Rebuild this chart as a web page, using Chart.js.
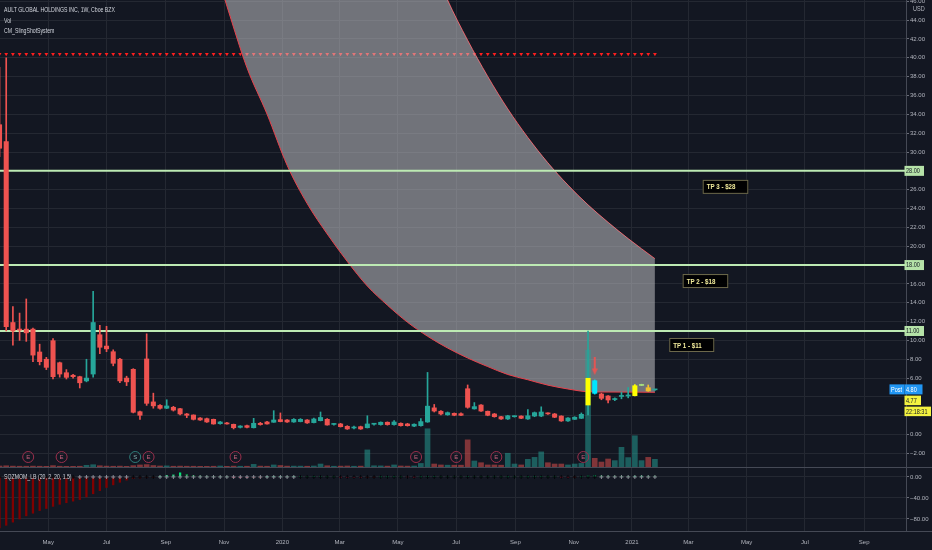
<!DOCTYPE html>
<html>
<head>
<meta charset="utf-8">
<script src="https://cdn.jsdelivr.net/npm/chart.js@4.4.0/dist/chart.umd.min.js"></script>
<style>
html,body{margin:0;padding:0;background:#131722;overflow:hidden}
#wrap{width:932px;height:550px;position:relative}
</style>
</head>
<body>
<div id="wrap"><canvas id="c" width="932" height="550"></canvas></div>
<script>
// ---------------- DATA ----------------
const firstWeek = '2019-03-11';   // first weekly bar (Mondays, one bar per week)
const open  = [32.9,31.1,11.9,11.2,11.2,11.2,8.77,8.0,9.97,7.63,
  6.57,6.3,6.15,5.7,6.43,10.6,9.4,8.8,8.0,6.0,
  6.93,2.43,8.03,3.47,3.1,2.8,2.9,2.75,2.19,2.08,
  1.76,1.69,1.62,1.16,1.24,1.09,0.77,0.95,0.73,1.2,
  1.34,1.31,1.59,1.55,1.34,1.38,1.55,1.27,1.48,1.62,
  1.08,1.13,0.88,0.7,0.84,0.73,1.1,1.06,1.31,1.06,
  1.2,1.13,0.9,0.95,1.34,2.84,2.48,2.1,2.26,2.22,
  4.87,2.73,3.14,2.48,2.19,1.9,1.66,1.9,1.97,1.66,
  1.97,1.97,2.26,2.19,1.97,1.45,1.62,1.73,3.14,5.72,
  4.31,4.1,3.72,4.05,4.1,4.13,5.22,4.98,4.75];
const high  = [39,40,13.6,12.9,14.4,11.3,9.6,8.2,10.2,7.7,
  6.9,6.4,6.2,8.0,15.2,11.6,11.5,9.0,8.1,6.2,
  7.0,2.5,10.7,4.4,3.2,3.7,3.0,2.8,2.25,2.1,
  1.8,1.75,1.65,1.4,1.3,1.12,0.95,1.0,1.73,1.3,
  1.4,2.54,2.3,1.6,1.7,1.7,1.6,1.75,2.4,1.7,
  1.2,1.2,0.95,0.9,0.9,2.0,1.2,1.35,1.35,1.5,
  1.25,1.2,1.15,1.7,6.6,3.2,2.55,2.4,2.3,2.3,
  5.27,3.4,3.2,2.5,2.25,1.95,2.05,2.0,2.0,2.65,
  2.4,2.95,2.3,2.25,2.0,1.8,1.9,2.3,11.0,5.8,
  4.4,4.15,3.9,4.5,5.0,5.3,5.35,5.27,4.8];
const low   = [29.5,11.0,9.5,10.0,9.9,7.74,7.4,6.9,5.9,6.1,
  5.9,6.0,4.95,5.6,6.1,8.6,8.8,7.3,5.5,5.2,
  2.3,1.6,3.1,2.8,2.7,2.75,2.5,2.1,1.8,1.55,
  1.5,1.3,1.1,1.1,1.1,0.6,0.7,0.72,0.7,1.0,
  1.1,1.3,1.35,1.3,1.3,1.35,1.2,1.25,1.45,1.0,
  1.0,0.8,0.55,0.6,0.55,0.7,1.0,1.0,1.0,1.0,
  0.9,0.9,0.85,0.9,1.3,2.4,2.1,2.05,2.0,2.0,
  2.8,2.7,2.45,2.0,1.85,1.6,1.6,1.85,1.7,1.6,
  1.9,1.9,2.15,1.8,1.4,1.4,1.6,1.7,2.1,4.3,
  3.7,3.35,3.6,3.8,3.9,4.1,5.2,4.6,4.7];
const close = [30.4,11.45,11.0,11.1,10.8,8.44,7.74,7.14,6.15,6.43,
  6.08,6.15,5.5,6.0,11.9,9.27,9.1,7.57,5.7,5.6,
  2.37,2.05,3.32,3.05,2.79,3.04,2.6,2.19,2.05,1.62,
  1.55,1.34,1.13,1.34,1.13,0.73,0.91,0.77,1.2,1.06,
  1.13,1.55,1.38,1.34,1.62,1.62,1.24,1.66,1.82,1.02,
  1.12,0.84,0.6,0.76,0.6,1.13,1.12,1.31,1.06,1.34,
  0.95,0.95,1.1,1.38,3.02,2.5,2.19,2.33,2.05,2.05,
  2.9,2.97,2.5,2.05,1.9,1.66,2.0,1.97,1.73,2.0,
  2.33,2.4,2.2,1.84,1.45,1.76,1.84,2.15,5.98,4.38,
  3.85,3.67,3.8,4.15,4.2,5.19,5.3,4.63,4.77];
const volume = [0.6,0.8,0.5,0.4,0.4,0.5,0.4,0.3,0.9,0.4,
  0.3,0.3,0.4,1.2,1.7,0.8,0.5,0.4,0.5,0.3,
  0.9,1.5,1.8,1.0,0.6,0.7,0.4,0.5,0.4,0.4,
  0.3,0.3,0.4,0.6,0.3,0.5,0.4,0.4,2.0,0.5,
  0.4,1.5,1.0,0.5,0.5,0.5,0.4,0.6,2.3,0.8,
  0.4,0.5,0.6,0.4,0.5,14.4,0.8,0.7,0.5,1.5,
  0.6,0.5,0.6,2.8,32.5,2.3,1.5,1.3,1.3,1.3,
  23.0,4.9,3.4,1.5,1.5,1.3,11.5,2.3,1.5,6.3,
  8.0,12.7,3.4,2.3,2.3,1.5,2.3,2.8,100,7.2,
  4.0,6.6,5.2,16.6,7.8,26.5,5.2,8.0,6.3];
// CM_SlingShotSystem bar colouring and signal
const signalBars  = [88, 89, 95, 96, 97];
const signalKinds = ['yellow', 'cyan', 'yellow', 'lime', 'orange'];
const sellArrowBars = [89];
const sellArrowPrice = [7.23];
const slingLevel = 40.4;               // row of red triangles
// curved zone (drawing) — bar index, lower edge, upper edge
const bandIdx   = [33,34,37,40,43,46,49,52,55,58,61,64,67,70,73,76,79,82,85,88,91,94,98];
const bandLower = [47.8,45.5,38.95,34.03,28.6,24.53,21.3,18.38,15.77,13.74,11.93,10.44,9.19,8.13,7.22,6.38,5.82,5.25,4.84,4.55,4.52,4.51,4.49];
const bandUpper = [122.9,119.9,111.2,102.9,94.9,87.4,80.3,73.6,67.3,61.4,55.9,51.3,46.14,41.87,38.03,34.58,31.55,28.85,26.49,24.39,22.54,20.81,18.68];
// take profit levels
const tpLevels = [28, 18, 11];
const tpLabels = ['TP 3 - $28', 'TP 2 - $18', 'TP 1 - $11'];
// squeeze momentum
const momentum = [-97,-92,-86,-80,-74,-69,-64,-60,-56,-52,
  -49,-46,-43,-38,-32,-26,-20,-15,-10,-6,
  -3,-2,-1,-0.5,1.5,3,4,8,5,3,
  2,1.5,1,0.5,0.3,-0.3,-0.6,-0.8,-0.5,-0.3,
  0.2,0.5,0.8,0.6,0.7,0.8,0.5,0.6,0.9,0.4,
  0.1,-0.2,-0.5,-0.6,-0.7,-0.4,-0.2,0.1,0.2,0.3,
  0.1,0.0,-0.1,0.2,1.2,1.3,1.1,1.0,0.9,0.8,
  1.2,1.0,0.9,0.6,0.3,0.1,0.2,0.2,0.1,0.2,
  0.3,0.4,0.3,0.2,-0.1,-0.2,-0.1,0.1,2.0,2.4,
  2.2,1.9,1.6,1.5,1.4,1.6,1.8,1.7,1.6];
const sqzOn = [1,1,1,1,1,1,1,1,1,1,1,1, 0,0,0,0,0,0,0,0, 1,1,1,1,
  0,0,0,0,0,0,0,0,0,0,0,0,0,0,0,0,0,0,0,0,0,
  1,1,1,1,1,1,1,1,1,1,1,1,1,1,1,1,1,1,1,1,1,1,1,1,1,1,1,1,1,1,1,1,1,1,1,1,1,1,1,1,1,1,1,1,1,
  0,0,0,0,0,0,0,0,0];
// events
const earningsDates = ['2019-04-10','2019-05-15','2019-08-14','2019-11-13','2020-05-20','2020-07-01','2020-08-12','2020-11-11'];
const splitDates = ['2019-07-31'];
// last price info
const postPrice = 4.80;
const lastPrice = 4.77;
const countdown = '22:18:31';
// axis ticks
const xTickDates  = ['2019-05-01','2019-07-01','2019-09-01','2019-11-01','2020-01-01','2020-03-01','2020-05-01','2020-07-01','2020-09-01','2020-11-01','2021-01-01','2021-03-01','2021-05-01','2021-07-01','2021-09-01'];
const xTickLabels = ['May','Jul','Sep','Nov','2020','Mar','May','Jul','Sep','Nov','2021','Mar','May','Jul','Sep'];
const priceTicks = [-2,0,2,4,6,8,10,12,14,16,18,20,22,24,26,28,30,32,34,36,38,40,42,44,46];
const momTicks = [-80,-40,0];
const titleLines = ['AULT GLOBAL HOLDINGS INC, 1W, Cboe BZX', 'Vol', 'CM_SlingShotSystem'];
const momTitle = 'SQZMOM_LB (20, 2, 20, 1.5)';

// ---------------- HELPERS ----------------
const dayOf = s => { const [Y,M,D] = s.split('-').map(Number); return (Date.UTC(Y,M-1,D) - Date.UTC(2020,0,1)) / 864e5; };
const d0 = dayOf(firstWeek);
const weeks = open.map((_, i) => d0 + 7 * i);
const X_MIN = -295.5, X_MAX = 652.8;

const FONT = '"Liberation Sans",Arial,sans-serif';
const GRID = '#242832', TXT = '#b2b5be';
const UP = '#26a69a', DN = '#ef5350';
const SIG = {yellow:'#ffff00', cyan:'#00e5ff', lime:'#a8e07c', orange:'#f2bf2e'};
const isUp = i => close[i] >= open[i];
const bodyColor = i => { const k = signalBars.indexOf(i); return k >= 0 ? SIG[signalKinds[k]] : (isUp(i) ? UP : DN); };
const momColor = i => {
  const v = momentum[i], p = i > 0 ? momentum[i-1] : v;
  return v > 0 ? (v > p ? '#00e676' : '#008c3a') : (v < p ? '#ff1744' : '#800000');
};

// arrow point style
const arrow = document.createElement('canvas');
arrow.width = 6; arrow.height = 18;
(() => { const a = arrow.getContext('2d'); a.fillStyle = 'rgba(239,83,80,0.9)';
  a.fillRect(2, 0, 2, 12); a.beginPath(); a.moveTo(0, 11); a.lineTo(6, 11); a.lineTo(3, 17.5); a.closePath(); a.fill(); })();

function ctext(ctx, s, x, y, sx) {
  ctx.save(); ctx.translate(x, y); ctx.scale(sx, 1); ctx.fillText(s, 0, 0); ctx.restore();
}
function tag(ctx, text, x, yc, w, h, bg, fg) {
  ctx.fillStyle = bg; ctx.fillRect(x, yc - h/2, w, h);
  ctx.fillStyle = fg; ctx.textAlign = 'left'; ctx.textBaseline = 'middle';
  ctext(ctx, text, x + 1.5, yc + 0.5, 0.85);
}

// ---------------- OVERLAY PLUGIN ----------------
const tpBoxes = [{date:'2021-03-16', dy:9, w:45.6}, {date:'2021-02-23', dy:9, w:45.6}, {date:'2021-02-09', dy:7, w:45}];
const overlay = {
  id: 'overlay',
  afterDatasetsDraw(chart) {
    const ctx = chart.ctx, xs = chart.scales.x, ys = chart.scales.y;
    ctx.save();
    const ev = (d, letter, stroke, fg) => {
      const x = xs.getPixelForValue(dayOf(d)), y = ys.bottom - 10;
      ctx.beginPath(); ctx.arc(x, y, 5.5, 0, Math.PI * 2);
      ctx.lineWidth = 1; ctx.strokeStyle = stroke; ctx.stroke();
      ctx.fillStyle = fg; ctx.font = `6px ${FONT}`; ctx.textAlign = 'center'; ctx.textBaseline = 'middle';
      ctx.fillText(letter, x, y + 0.5);
    };
    earningsDates.forEach(d => ev(d, 'E', '#9a2f4c', '#c2607a'));
    splitDates.forEach(d => ev(d, 'S', '#2f7d7a', '#7fb5b2'));
    ctx.font = `bold 7.5px ${FONT}`;
    tpLevels.forEach((lv, k) => {
      const b = tpBoxes[k];
      const x = xs.getPixelForValue(dayOf(b.date)), y = ys.getPixelForValue(lv) + b.dy;
      ctx.fillStyle = 'rgba(0,0,0,0.92)'; ctx.fillRect(x, y, b.w, 14);
      ctx.strokeStyle = '#6e6a4c'; ctx.lineWidth = 1; ctx.strokeRect(x + 0.5, y + 0.5, b.w - 1, 13);
      ctx.fillStyle = '#f3ec9c'; ctx.textAlign = 'left'; ctx.textBaseline = 'middle';
      ctext(ctx, tpLabels[k], x + 4, y + 7.5, 0.82);
    });
    ctx.restore();
  },
  afterDraw(chart) {
    const ctx = chart.ctx, ys = chart.scales.y, yi = chart.scales.yInd, area = chart.chartArea;
    const W = chart.width, axL = area.right;
    ctx.save();
    ctx.strokeStyle = '#454955'; ctx.lineWidth = 1;
    ctx.beginPath();
    ctx.moveTo(0, ys.bottom + 0.5); ctx.lineTo(W, ys.bottom + 0.5);
    ctx.moveTo(0, area.bottom + 0.5); ctx.lineTo(W, area.bottom + 0.5);
    ctx.moveTo(axL + 0.5, 0); ctx.lineTo(axL + 0.5, area.bottom);
    ctx.stroke();
    ctx.font = `6.5px ${FONT}`;
    tpLevels.forEach(lv => tag(ctx, lv.toFixed(2), axL - 1.5, ys.getPixelForValue(lv), 19.5, 10, '#b5e2a8', '#131722'));
    const py = ys.getPixelForValue(postPrice);
    tag(ctx, 'Post', axL - 16.5, py, 15, 10, '#2196f3', '#ffffff');
    tag(ctx, postPrice.toFixed(2), axL - 1.5, py, 18, 10, '#2196f3', '#ffffff');
    tag(ctx, lastPrice.toFixed(2), axL - 1.5, py + 11, 16.5, 9.5, '#f3f340', '#131722');
    tag(ctx, countdown, axL - 1.5, py + 22, 26.5, 9.5, '#f3f340', '#131722');
    ctx.fillStyle = TXT; ctx.textAlign = 'left'; ctx.textBaseline = 'middle';
    ctext(ctx, 'USD', axL + 7, 9, 0.85);
    ctx.fillStyle = '#d1d4dc'; ctx.font = `7.5px ${FONT}`;
    titleLines.forEach((t, k) => ctext(ctx, t, 4, 10 + k * 10.5, 0.69));
    ctext(ctx, momTitle, 4, yi.getPixelForValue(0) - 0.5, 0.69);
    ctx.restore();
  }
};

// ---------------- CHART ----------------
const datasets = [
  { type:'bar', label:'Vol', yAxisID:'yVol', order:6, grouped:false, barThickness:5,
    data: weeks.map((x,i) => ({x, y: volume[i]})),
    backgroundColor: c => isUp(c.dataIndex) ? 'rgba(38,166,154,0.5)' : 'rgba(239,83,80,0.5)' },
  { type:'line', label:'zoneLow', yAxisID:'y', order:7, data: bandIdx.map((k,j) => ({x: weeks[k], y: bandLower[j]})),
    borderColor:'#e8424c', borderWidth:1, pointRadius:0, cubicInterpolationMode:'monotone',
    fill:'+1', backgroundColor:'rgba(200,200,204,0.52)' },
  { type:'line', label:'zoneHigh', yAxisID:'y', order:7, data: bandIdx.map((k,j) => ({x: weeks[k], y: bandUpper[j]})),
    borderColor:'#e8424c', borderWidth:1, pointRadius:0, cubicInterpolationMode:'monotone', fill:false },
  { type:'scatter', label:'sling', yAxisID:'y', order:8, data: weeks.map(x => ({x, y: slingLevel})),
    pointStyle:'triangle', rotation:180, pointRadius:2.2, pointBackgroundColor:'#ff1f1f', pointBorderWidth:0, borderWidth:0 },
  ...tpLevels.map(lv => ({ type:'line', label:'tp', yAxisID:'y', order:4,
    data:[{x:X_MIN - 5, y:lv}, {x:X_MAX + 5, y:lv}], borderColor:'#bdeab3', borderWidth:2, pointRadius:0, fill:false })),
  { type:'bar', label:'wick', yAxisID:'y', order:3, grouped:false, barThickness:1,
    data: weeks.map((x,i) => ({x, y:[low[i], high[i]]})),
    backgroundColor: c => { const i = c.dataIndex; const k = signalBars.indexOf(i);
      return (k >= 0 && i !== 88) ? SIG[signalKinds[k]] : (isUp(i) ? UP : DN); } },
  { type:'bar', label:'body', yAxisID:'y', order:2, grouped:false, barThickness:4.4, minBarLength:1,
    data: weeks.map((x,i) => ({x, y:[open[i], close[i]]})),
    backgroundColor: c => bodyColor(c.dataIndex) },
  { type:'scatter', label:'sell', yAxisID:'y', order:1, data: sellArrowBars.map((k,j) => ({x: weeks[k], y: sellArrowPrice[j]})),
    pointStyle: arrow, pointRadius: 9 },
  { type:'bar', label:'mom', yAxisID:'yInd', order:3, grouped:false, barThickness:1.6,
    data: weeks.map((x,i) => ({x, y: momentum[i]})), backgroundColor: c => momColor(c.dataIndex) },
  { type:'scatter', label:'sqz', yAxisID:'yInd', order:2, data: weeks.map(x => ({x, y: 0})),
    pointStyle:'cross', pointRadius:2, pointBorderWidth:1,
    pointBorderColor: c => sqzOn[c.dataIndex] ? '#05070b' : '#8a8d96' }
];

const yAxisBase = {
  position:'right', stack:'price', offset:false,
  border:{display:false},
  grid:{color:GRID, drawTicks:true, tickLength:3, tickColor:'#6a6d78'},
  afterFit: s => { s.width = 26; s.paddingTop = 0; s.paddingBottom = 0; }
};
const fmt = v => (v < 0 ? '\u2212' + Math.abs(v).toFixed(2) : v.toFixed(2));

new Chart(document.getElementById('c'), {
  type:'bar',
  data:{ datasets },
  options:{
    responsive:false, animation:false, devicePixelRatio:1,
    layout:{padding:0, autoPadding:false},
    plugins:{ legend:{display:false}, tooltip:{enabled:false} },
    scales:{
      x:{ type:'linear', min:X_MIN, max:X_MAX, offset:false, position:'bottom',
        border:{display:false},
        grid:{color:GRID, offset:false, drawTicks:false},
        afterBuildTicks: s => { s.ticks = xTickDates.map(d => ({value: dayOf(d)})); },
        ticks:{ autoSkip:false, maxRotation:0, padding:8, color:TXT, font:{family:FONT, size:6},
          callback:(v, idx) => xTickLabels[idx] },
        afterFit: s => { s.height = 19; s.paddingLeft = 0; s.paddingRight = 0; } },
      y:{ ...yAxisBase, type:'linear', stackWeight:467, min:-3.44, max:46.14,
        afterBuildTicks: s => { s.ticks = priceTicks.map(v => ({value:v})); },
        ticks:{ autoSkip:false, color:TXT, padding:1, font:{family:FONT, size:6},
          callback: v => (tpLevels.includes(v) || v === 2 || v === 4) ? '' : fmt(v) } },
      yInd:{ ...yAxisBase, type:'linear', stackWeight:64, min:-102.9, max:19.05,
        afterBuildTicks: s => { s.ticks = momTicks.map(v => ({value:v})); },
        ticks:{ autoSkip:false, color:TXT, padding:1, font:{family:FONT, size:6}, callback: fmt } },
      yVol:{ type:'linear', display:false, min:-55.1, max:399.9 }
    }
  },
  plugins:[overlay]
});
</script>
</body>
</html>
